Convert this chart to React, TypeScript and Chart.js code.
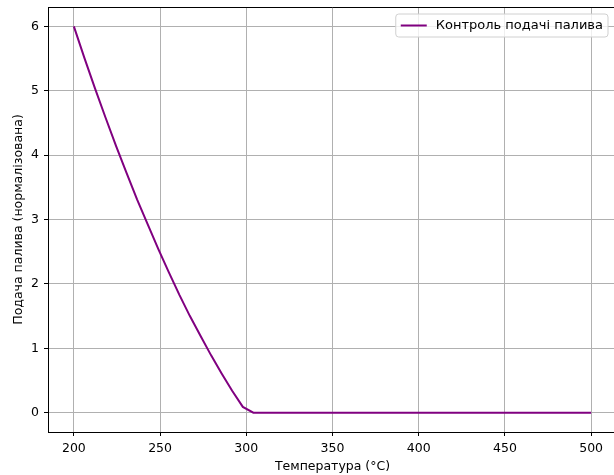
import React, { useEffect, useRef } from "react";
import { Chart, registerables } from "chart.js";

Chart.register(...registerables);

const temperatures = [200, 206.1, 212.2, 218.4, 224.5, 230.6, 236.7, 242.9, 249.0, 255.1, 261.2, 267.3, 273.5, 279.6, 285.7, 291.8, 298.0, 304.1, 500];
const fuelSupply = [6.0, 5.51, 5.04, 4.58, 4.14, 3.72, 3.31, 2.92, 2.54, 2.18, 1.83, 1.5, 1.19, 0.89, 0.61, 0.34, 0.09, 0.0, 0.0];
const xTicks = [200, 250, 300, 350, 400, 450, 500];
const yTicks = [0, 1, 2, 3, 4, 5, 6];
const seriesLabel = "Контроль подачі палива";
const xTitle = "Температура (°C)";
const yTitle = "Подача палива (нормалізована)";

const FONT = "'DejaVu Sans', sans-serif";

const frameLegendPlugin = {
  id: "frameLegend",
  afterDraw(chart: any) {
    const { ctx, chartArea } = chart;
    const { left, right, top, bottom } = chartArea;
    ctx.save();
    // top and right spines
    ctx.strokeStyle = "#000";
    ctx.lineWidth = 1;
    ctx.beginPath();
    ctx.moveTo(left, top + 0.5);
    ctx.lineTo(right, top + 0.5);
    ctx.moveTo(right - 0.5, top);
    ctx.lineTo(right - 0.5, bottom);
    ctx.stroke();

    // legend box
    const ds = chart.data.datasets[0];
    ctx.font = `13px ${FONT}`;
    const tw = ctx.measureText(ds.label).width;
    const boxRight = right - 9;
    const boxTop = top + 7;
    const boxH = 23;
    const boxW = tw + 45;
    const boxLeft = boxRight - boxW;
    const r = 3;
    ctx.beginPath();
    ctx.moveTo(boxLeft + r, boxTop);
    ctx.lineTo(boxRight - r, boxTop);
    ctx.arcTo(boxRight, boxTop, boxRight, boxTop + r, r);
    ctx.lineTo(boxRight, boxTop + boxH - r);
    ctx.arcTo(boxRight, boxTop + boxH, boxRight - r, boxTop + boxH, r);
    ctx.lineTo(boxLeft + r, boxTop + boxH);
    ctx.arcTo(boxLeft, boxTop + boxH, boxLeft, boxTop + boxH - r, r);
    ctx.lineTo(boxLeft, boxTop + r);
    ctx.arcTo(boxLeft, boxTop, boxLeft + r, boxTop, r);
    ctx.closePath();
    ctx.fillStyle = "rgba(255,255,255,0.8)";
    ctx.fill();
    ctx.strokeStyle = "#d0d0d0";
    ctx.lineWidth = 1;
    ctx.stroke();

    const cy = boxTop + boxH / 2;
    ctx.strokeStyle = ds.borderColor;
    ctx.lineWidth = 2;
    ctx.beginPath();
    ctx.moveTo(boxLeft + 5, cy);
    ctx.lineTo(boxLeft + 31, cy);
    ctx.stroke();

    ctx.fillStyle = "#000";
    ctx.textBaseline = "middle";
    ctx.textAlign = "left";
    ctx.fillText(ds.label, boxLeft + 40, cy + 0.5);
    ctx.restore();
  },
};

export default function App() {
  const ref = useRef<HTMLCanvasElement | null>(null);

  useEffect(() => {
    document.body.style.margin = "0";
    document.body.style.overflow = "hidden";
    const canvas = ref.current;
    if (!canvas) return;
    const points = temperatures.map((t, i) => ({ x: t, y: fuelSupply[i] }));
    const chart = new Chart(canvas, {
      type: "line",
      data: {
        datasets: [
          {
            label: seriesLabel,
            data: points,
            borderColor: "#800080",
            backgroundColor: "#800080",
            borderWidth: 2,
            pointRadius: 0,
            tension: 0,
            fill: false,
          },
        ],
      },
      options: {
        responsive: false,
        animation: false,
        layout: { padding: { top: 7, right: 3, left: 0, bottom: 0 } },
        plugins: {
          legend: { display: false },
          tooltip: { enabled: false },
        },
        scales: {
          x: {
            type: "linear",
            min: 185,
            max: 515,
            afterBuildTicks: (scale: any) => {
              scale.ticks = xTicks.map((v) => ({ value: v }));
            },
            afterFit: (scale: any) => {
              scale.height = 43;
              scale.paddingLeft = 0;
              scale.paddingRight = 0;
            },
            ticks: {
              color: "#000",
              font: { family: FONT, size: 12.5 },
              padding: 5,
              maxRotation: 0,
              autoSkip: false,
            },
            grid: {
              color: "#b0b0b0",
              lineWidth: 1,
              tickColor: "#000",
              tickLength: 4,
              tickWidth: 1,
            },
            border: { display: true, color: "#000", width: 1 },
            title: {
              display: true,
              text: xTitle,
              color: "#000",
              font: { family: FONT, size: 12.5 },
              padding: { top: 0, bottom: 1 },
            },
          },
          y: {
            type: "linear",
            min: -0.3,
            max: 6.3,
            afterBuildTicks: (scale: any) => {
              scale.ticks = yTicks.map((v) => ({ value: v }));
            },
            afterFit: (scale: any) => {
              scale.width = 48;
              scale.paddingTop = 0;
              scale.paddingBottom = 0;
            },
            ticks: {
              color: "#000",
              font: { family: FONT, size: 12.5 },
              padding: 5,
              autoSkip: false,
            },
            grid: {
              color: "#b0b0b0",
              lineWidth: 1,
              tickColor: "#000",
              tickLength: 4,
              tickWidth: 1,
            },
            border: { display: true, color: "#000", width: 1 },
            title: {
              display: true,
              text: yTitle,
              color: "#000",
              font: { family: FONT, size: 12.5 },
              padding: { top: 11, bottom: 0 },
            },
          },
        },
      },
      plugins: [frameLegendPlugin],
    });
    return () => chart.destroy();
  }, []);

  return (
    <div style={{ width: 614, height: 475, overflow: "hidden" }}>
      <canvas ref={ref} width={620} height={475} style={{ display: "block" }} />
    </div>
  );
}
